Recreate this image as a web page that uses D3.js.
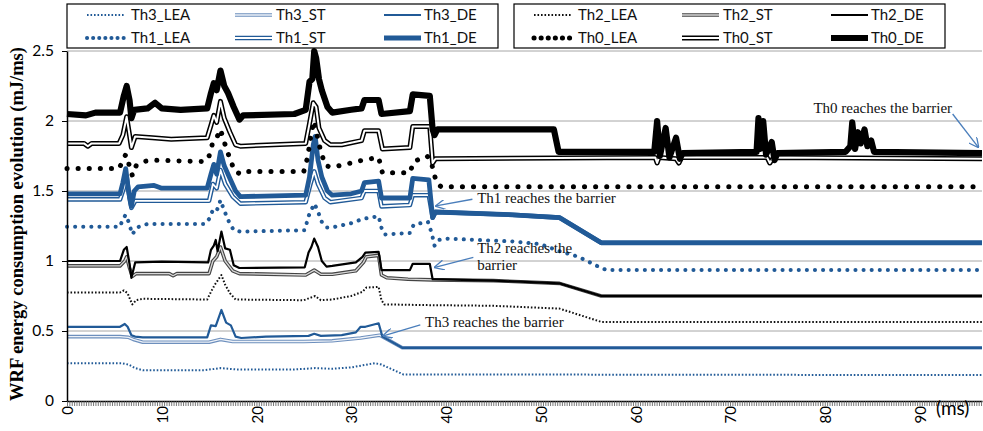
<!DOCTYPE html>
<html>
<head>
<meta charset="utf-8">
<script src="https://cdn.jsdelivr.net/npm/d3@7"></script>
<style>
  body { margin: 0; background: #fff; }
  svg { display: block; }
</style>
</head>
<body>
<svg id="chart" width="983" height="431"></svg>
<script>
// values: [time (ms), energy (mJ/ms)]
var th3LEA = [[0,0.27],[5.8,0.27],[6.5,0.26],[7.2,0.235],[8,0.22],[14.5,0.22],[16.2,0.235],[18,0.225],[24,0.225],[26.2,0.235],[28,0.23],[30,0.24],[32.5,0.27],[33.2,0.26],[34.2,0.23],[35.5,0.19],[96.6,0.185]]
var th3ST = [[0,0.46],[5.6,0.46],[6.5,0.455],[7,0.44],[8,0.42],[15,0.42],[16.2,0.44],[17.5,0.425],[25,0.425],[28,0.43],[31,0.45],[33,0.47],[33.3,0.46],[35.4,0.38],[96.6,0.38]]
var th3DE = [[0,0.53],[5.6,0.53],[6.1,0.55],[6.4,0.53],[6.8,0.47],[7.2,0.46],[8,0.455],[14.8,0.455],[15.2,0.54],[15.7,0.535],[16.3,0.65],[16.8,0.56],[17.3,0.54],[17.8,0.46],[18.4,0.45],[21,0.46],[25.5,0.465],[26.1,0.48],[26.8,0.465],[29,0.47],[30.5,0.49],[31,0.53],[31.5,0.53],[32.9,0.555],[33.3,0.46],[35.4,0.38],[96.6,0.38]]

var th2LEA = [[0,0.775],[5.6,0.775],[6,0.79],[6.4,0.77],[6.7,0.72],[6.9,0.69],[7.3,0.72],[8,0.73],[14.8,0.725],[15.2,0.78],[15.6,0.83],[16,0.87],[16.3,0.9],[16.7,0.83],[17.2,0.77],[17.8,0.725],[25,0.72],[26.2,0.75],[26.8,0.72],[28,0.725],[30,0.75],[31.2,0.78],[31.6,0.81],[32.9,0.815],[33.2,0.72],[33.5,0.69],[38,0.685],[45,0.68],[52,0.66],[56.4,0.565],[96.6,0.565]]
var th2ST = [[0,0.965],[5.6,0.965],[6.1,1],[6.3,1.03],[6.6,0.95],[6.9,0.89],[7.3,0.91],[10.8,0.91],[11.2,0.895],[11.6,0.91],[15,0.91],[15.4,1],[15.8,1.03],[16.2,1.1],[16.7,1],[17.5,0.93],[18.2,0.91],[25.2,0.9],[26.1,0.935],[26.8,0.905],[28,0.905],[30.5,0.93],[31.3,0.99],[31.6,1.03],[32.9,1.04],[33.2,0.9],[33.8,0.88],[36,0.87],[38.6,0.865],[45,0.86],[52,0.84],[56.4,0.75],[96.6,0.75]]
var th2DE = [[0,1],[5.6,1],[6,1.08],[6.3,1.1],[6.6,0.98],[6.8,0.88],[7.2,0.99],[10,0.995],[14.9,0.99],[15.2,1.08],[15.5,1.11],[15.7,1.15],[15.9,1.07],[16.3,1.21],[16.7,1.09],[17.2,1.08],[17.6,0.97],[18.2,0.95],[25.1,0.955],[25.5,1.06],[25.8,1.1],[26.1,1.16],[26.5,1.1],[26.9,1],[27.4,0.96],[28,0.965],[30.5,0.99],[31.2,1.03],[31.5,1.06],[32.9,1.065],[33.2,0.935],[36.2,0.935],[36.5,0.98],[38.3,0.98],[38.6,0.87],[45,0.86],[52,0.84],[56.4,0.75],[96.6,0.75]]

var th1LEA = [[0,1.245],[5.6,1.245],[5.9,1.3],[6.2,1.33],[6.5,1.28],[6.9,1.19],[7.4,1.24],[8.5,1.265],[14.6,1.265],[15,1.3],[15.5,1.38],[15.9,1.37],[16.2,1.435],[16.6,1.36],[17.1,1.28],[17.6,1.22],[18.3,1.21],[25.1,1.22],[25.5,1.32],[25.9,1.38],[26.1,1.41],[26.4,1.37],[26.9,1.28],[27.4,1.24],[28,1.24],[30,1.27],[31.2,1.3],[32.9,1.32],[33.3,1.21],[33.6,1.19],[36.2,1.2],[36.6,1.26],[38.1,1.28],[38.5,1.2],[38.8,1.11],[39.2,1.15],[40,1.16],[47,1.14],[50,1.12],[52,1.07],[54,1.03],[56.4,0.95],[57,0.935],[96.6,0.935]]
var th1ST = [[0,1.44],[5.6,1.44],[6,1.52],[6.3,1.6],[6.6,1.45],[6.8,1.38],[7.2,1.43],[15,1.43],[15.4,1.55],[15.8,1.52],[16.2,1.65],[16.7,1.55],[17.5,1.46],[18.3,1.41],[25.2,1.42],[25.7,1.55],[26.1,1.64],[26.5,1.55],[27.2,1.45],[27.8,1.42],[31.1,1.45],[31.4,1.5],[32.9,1.5],[33.2,1.39],[36.2,1.4],[36.5,1.47],[38.2,1.47],[38.6,1.31],[38.9,1.35],[47,1.33],[52,1.31],[56.4,1.13],[96.6,1.13]]
var th1DE = [[0,1.48],[5.6,1.48],[5.9,1.56],[6.2,1.66],[6.5,1.5],[6.8,1.39],[7.1,1.5],[7.5,1.53],[9.2,1.54],[10,1.52],[14.8,1.52],[15.2,1.62],[15.5,1.69],[15.8,1.62],[16.2,1.78],[16.6,1.68],[17.2,1.59],[17.8,1.5],[18.3,1.46],[25.2,1.47],[25.6,1.6],[26,1.83],[26.2,1.89],[26.5,1.72],[26.9,1.6],[27.5,1.5],[28,1.47],[30,1.48],[31.1,1.5],[31.4,1.56],[32.9,1.57],[33.2,1.45],[36.2,1.45],[36.5,1.59],[38.2,1.58],[38.6,1.31],[38.9,1.35],[47,1.33],[52,1.31],[56.4,1.13],[96.6,1.13]]

var th0LEA = [[0,1.66],[5.5,1.66],[5.9,1.72],[6.2,1.76],[6.5,1.7],[6.9,1.61],[7.3,1.68],[8,1.71],[9,1.72],[14.6,1.71],[15,1.75],[15.4,1.85],[15.8,1.88],[16.2,1.94],[16.6,1.85],[17.1,1.75],[17.7,1.64],[18.4,1.62],[19,1.64],[25,1.64],[25.4,1.74],[25.8,1.92],[26.1,2],[26.4,1.9],[26.8,1.78],[27.3,1.68],[28,1.67],[30,1.7],[31.2,1.72],[32.9,1.74],[33.3,1.63],[36.2,1.63],[36.6,1.71],[38,1.75],[38.4,1.72],[38.7,1.64],[39,1.56],[39.5,1.53],[96.6,1.53]]
var th0ST = [[0,1.84],[1.8,1.84],[2.2,1.82],[2.6,1.84],[5.5,1.84],[5.9,1.9],[6.3,2.03],[6.6,1.9],[6.8,1.81],[7.2,1.89],[9,1.88],[11,1.87],[14.8,1.88],[15.2,1.97],[15.5,2.04],[15.8,1.99],[16.2,2.14],[16.6,2.02],[17.2,1.92],[17.8,1.83],[18.3,1.82],[25.2,1.84],[25.6,1.98],[26,2.13],[26.3,2.1],[26.6,1.95],[27.2,1.86],[27.8,1.83],[29,1.83],[31.1,1.86],[31.4,1.93],[32.9,1.93],[33.3,1.8],[36.2,1.81],[36.5,1.96],[38.3,1.96],[38.6,1.7],[38.9,1.73],[62.1,1.74],[62.3,1.7],[62.5,1.74],[64.3,1.73],[64.6,1.7],[64.9,1.74],[73.9,1.74],[74.2,1.7],[74.6,1.74],[96.6,1.73]]
var th0DE = [[0,2.05],[2,2.04],[3,2.06],[5.6,2.06],[6,2.18],[6.3,2.25],[6.6,2.15],[6.8,2.02],[7.1,2.08],[8.5,2.09],[9.3,2.13],[10,2.09],[12,2.08],[14.8,2.09],[15.2,2.2],[15.5,2.27],[15.8,2.22],[16.2,2.36],[16.6,2.25],[17,2.2],[17.6,2.1],[18.2,2.01],[18.6,2.04],[24,2.05],[25.2,2.08],[25.6,2.28],[25.9,2.3],[26.1,2.5],[26.3,2.45],[26.6,2.3],[26.9,2.22],[27.5,2.1],[28,2.06],[30,2.08],[31.1,2.09],[31.4,2.15],[32.9,2.15],[33.2,2.05],[36.2,2.07],[36.5,2.19],[38.3,2.18],[38.6,1.94],[38.8,1.9],[39.1,1.94],[51.4,1.94],[51.9,1.78],[62,1.78],[62.3,2],[62.6,1.75],[63.2,1.95],[63.6,1.74],[64.3,1.88],[64.7,1.73],[65,1.77],[72.8,1.78],[73,2.02],[73.2,1.8],[73.5,2],[73.8,1.76],[74.4,1.85],[74.7,1.72],[75,1.77],[82.2,1.78],[82.7,1.82],[82.9,1.99],[83.2,1.8],[83.5,1.92],[83.8,1.84],[84.2,1.94],[84.5,1.82],[84.9,1.86],[85.2,1.78],[96.6,1.77]]

var seriesNames = ["Th3_LEA", "Th3_ST", "Th3_DE", "Th2_LEA", "Th2_ST", "Th2_DE",
                   "Th1_LEA", "Th1_ST", "Th1_DE", "Th0_LEA", "Th0_ST", "Th0_DE"]
var seriesData = [th3LEA, th3ST, th3DE, th2LEA, th2ST, th2DE, th1LEA, th1ST, th1DE, th0LEA, th0ST, th0DE]

var xTicks = [0, 10, 20, 30, 40, 50, 60, 70, 80, 90]
var yTicks = [0, 0.5, 1, 1.5, 2, 2.5]
var xEnd = 96.6

// barrier notes: text position and arrow, in (ms, mJ/ms)
var noteText = [["Th0 reaches the barrier"], ["Th1 reaches the barrier"], ["Th2 reaches the", "barrier"], ["Th3 reaches the barrier"]]
var noteAt = [[78.8, 2.057], [43.3, 1.414], [43.3, 1.057], [37.8, 0.532]]
var arrowFrom = [[93.5, 2.05], [42.8, 1.441], [42.9, 1.026], [37.3, 0.543]]
var arrowTo = [[96.2, 1.814], [38.96, 1.393], [38.85, 0.955], [33.4, 0.466]]

var legendBoxes = [["Th3_LEA", "Th3_ST", "Th3_DE", "Th1_LEA", "Th1_ST", "Th1_DE"],
                   ["Th2_LEA", "Th2_ST", "Th2_DE", "Th0_LEA", "Th0_ST", "Th0_DE"]]

var blue = "#215a97"
var styles = {
  "Th3_LEA": {color: blue, width: 2, dash: "1.6,1.9"},
  "Th3_ST":  {color: "#6d8fbd", width: 3.6, inner: "#eef2f8", innerWidth: 1.3},
  "Th3_DE":  {color: blue, width: 2.2},
  "Th2_LEA": {color: "#111", width: 2, dash: "1.6,1.9"},
  "Th2_ST":  {color: "#444", width: 3.6, inner: "#d8d8d8", innerWidth: 1.3},
  "Th2_DE":  {color: "#000", width: 2.2},
  "Th1_LEA": {color: blue, width: 4, dash: "0.1,8", round: true},
  "Th1_ST":  {color: blue, width: 4.6, inner: "#fff", innerWidth: 1.8},
  "Th1_DE":  {color: blue, width: 4.8},
  "Th0_LEA": {color: "#000", width: 5, dash: "0.1,11", round: true},
  "Th0_ST":  {color: "#000", width: 5, inner: "#fff", innerWidth: 2},
  "Th0_DE":  {color: "#000", width: 6.2}
}

var svg = d3.select("#chart")
var plotLeft = 67, plotRight = 982, plotTop = 51, plotBottom = 401

var x = d3.scaleLinear().domain([0, xEnd]).range([plotLeft, plotRight])
var y = d3.scaleLinear().domain([0, 2.5]).range([plotBottom, plotTop])

// grid lines
svg.append("g").selectAll("line")
  .data(yTicks.filter(function(d) { return d > 0 }))
  .enter().append("line")
  .attr("x1", plotLeft).attr("x2", plotRight)
  .attr("y1", function(d) { return y(d) }).attr("y2", function(d) { return y(d) })
  .attr("stroke", "#a6a6a6").attr("stroke-width", 1)

var line = d3.line()
  .x(function(d) { return x(d[0]) })
  .y(function(d) { return y(d[1]) })

function strokePath(sel, s, width, color, dash) {
  sel.attr("fill", "none")
    .attr("stroke", color)
    .attr("stroke-width", width)
    .attr("stroke-linejoin", "round")
    .attr("stroke-linecap", s.round ? "round" : "butt")
  if (dash) sel.attr("stroke-dasharray", dash)
}

var lines = svg.append("g")
seriesNames.forEach(function(name, i) {
  var s = styles[name]
  var p = lines.append("path").attr("d", line(seriesData[i]))
  strokePath(p, s, s.width, s.color, s.dash)
  if (s.inner) {
    var q = lines.append("path").attr("d", line(seriesData[i]))
    strokePath(q, s, s.innerWidth, s.inner)
  }
})

// axes
var xAxis = d3.axisBottom(x)
  .tickValues(d3.range(0, xEnd, 0.25))
  .tickSize(5).tickSizeOuter(0)
  .tickFormat("")
var gx = svg.append("g")
  .attr("transform", "translate(0," + plotBottom + ")")
  .call(xAxis)
gx.select(".domain").attr("stroke", "#000").attr("stroke-width", 1.5)
gx.selectAll(".tick line").attr("stroke", "#555").attr("stroke-width", 0.8)

svg.append("g").selectAll("text")
  .data(xTicks)
  .enter().append("text")
  .attr("transform", function(d) { return "translate(" + (x(d) + 1) + ",406) rotate(-90)" })
  .attr("dy", "0.35em")
  .attr("text-anchor", "end")
  .attr("font-family", "Lato, 'Liberation Sans', sans-serif")
  .attr("font-size", 15)
  .attr("fill", "#000")
  .text(function(d) { return d })

var yAxis = d3.axisLeft(y)
  .tickValues(yTicks)
  .tickSize(5).tickSizeOuter(0).tickPadding(8)
  .tickFormat(function(d) { return String(d) })
var gy = svg.append("g")
  .attr("transform", "translate(" + plotLeft + ",0)")
  .call(yAxis)
gy.select(".domain").attr("stroke", "#000").attr("stroke-width", 1.5)
gy.selectAll(".tick text")
  .attr("font-family", "Lato, 'Liberation Sans', sans-serif")
  .attr("font-size", 15.5)
  .attr("fill", "#000")

svg.append("text")
  .attr("transform", "translate(23,224) rotate(-90)")
  .attr("text-anchor", "middle")
  .attr("font-family", "'Liberation Serif', 'Times New Roman', serif")
  .attr("font-weight", "bold")
  .attr("font-size", 18.5)
  .text("WRF energy consumption evolution (mJ/ms)")

svg.append("text")
  .attr("x", 936).attr("y", 415)
  .attr("font-family", "Lato, 'Liberation Sans', sans-serif")
  .attr("font-size", 19)
  .text("(ms)")

// legend
var boxLeft = [67, 514]
var boxWidth = 431
var colOffset = [20, 168, 317]
var textOffset = [44, 41, 40]
var rowY = [15, 38]
legendBoxes.forEach(function(names, b) {
  var g = svg.append("g").attr("transform", "translate(" + boxLeft[b] + ",4)")
  g.append("rect")
    .attr("width", boxWidth).attr("height", 44)
    .attr("fill", "#fff").attr("stroke", "#000").attr("stroke-width", 1.2)
  names.forEach(function(name, k) {
    var s = styles[name]
    var col = k % 3
    var cx = colOffset[col], cy = rowY[Math.floor(k / 3)] - 4
    var dash = s.dash
    if (s.round) dash = s.width > 4.5 ? "0.1,7" : "0.1,6"
    var p = g.append("line").attr("x1", cx).attr("x2", cx + 37).attr("y1", cy).attr("y2", cy)
    strokePath(p, s, s.width, s.color, dash)
    if (s.inner) {
      var q = g.append("line").attr("x1", cx).attr("x2", cx + 37).attr("y1", cy).attr("y2", cy)
      strokePath(q, s, s.innerWidth, s.inner)
    }
    g.append("text")
      .attr("x", cx + textOffset[col]).attr("y", cy + 5)
      .attr("font-family", "Lato, 'Liberation Sans', sans-serif")
      .attr("font-size", 15)
      .attr("fill", "#111")
      .text(name)
  })
})

// barrier annotations
var arrowBlue = "#4a7ebb"
svg.append("defs").append("marker")
  .attr("id", "arrowHead")
  .attr("viewBox", "0 0 10 10")
  .attr("refX", 9).attr("refY", 5)
  .attr("markerWidth", 10).attr("markerHeight", 10)
  .attr("markerUnits", "userSpaceOnUse")
  .attr("orient", "auto")
  .append("path")
  .attr("d", "M0,0 L10,5 L0,10")
  .attr("fill", "none").attr("stroke", arrowBlue).attr("stroke-width", 1.3)

var notes = svg.append("g")
noteText.forEach(function(lines, i) {
  var t = notes.append("text")
    .attr("x", x(noteAt[i][0])).attr("y", y(noteAt[i][1]))
    .attr("font-family", "'Liberation Serif', 'Times New Roman', serif")
    .attr("font-size", 15)
    .attr("fill", "#111")
  lines.forEach(function(l, j) {
    t.append("tspan").attr("x", x(noteAt[i][0])).attr("dy", j === 0 ? 0 : 17).text(l)
  })
  notes.append("line")
    .attr("x1", x(arrowFrom[i][0])).attr("y1", y(arrowFrom[i][1]))
    .attr("x2", x(arrowTo[i][0])).attr("y2", y(arrowTo[i][1]))
    .attr("stroke", arrowBlue).attr("stroke-width", 1.3)
    .attr("marker-end", "url(#arrowHead)")
})
</script>
</body>
</html>
